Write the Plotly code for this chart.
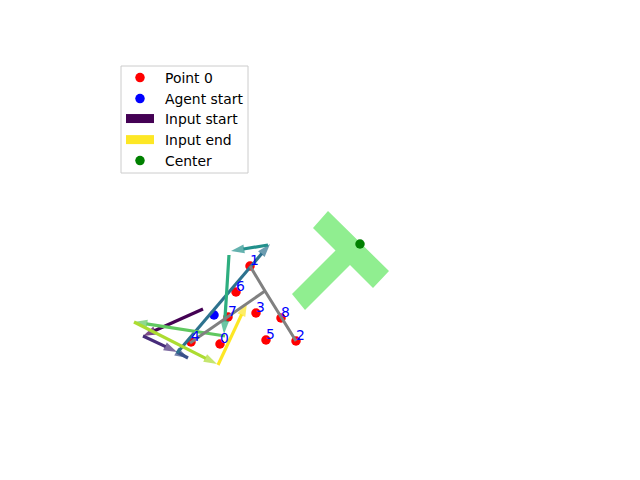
import plotly.graph_objects as go
from plotly.colors import sample_colorscale

W, H = 640, 480
FONT = "DejaVu Sans"

# ---------------- data (pixel-space coordinates, y grows downward) ----------------
point_labels = ["0", "1", "2", "3", "4", "5", "6", "7", "8"]
point_x = [220, 250, 296, 256, 191, 266, 236, 228, 281]
point_y = [344, 266, 341, 313, 342, 340, 292, 317, 318]

agent_x = [214]
agent_y = [315]

center_x = [360]
center_y = [244]

# gray skeleton
skel_main_x = [250, 265, 296]
skel_main_y = [266, 291, 341]
skel_branch_x = [265, 190]
skel_branch_y = [291, 343]

# light green T-shaped region outline
shape_x = [328, 389, 373, 350, 305, 292, 335.5, 313]
shape_y = [211, 271, 288, 265, 310, 294, 250.5, 228]

# input arrows (tail -> tip)
arrow_x0 = [203, 143, 177, 177, 268, 229, 225, 134, 218]
arrow_y0 = [309, 336, 352, 353, 245, 255, 336, 322, 365]
arrow_x1 = [143, 177, 188, 270, 231, 224, 134, 217, 247]
arrow_y1 = [336, 352, 358, 244, 251, 334, 322, 364, 303]

# legend frame (pixel box)
legend_box_x = [121, 248]
legend_box_y = [66, 173]

n_arrows = len(arrow_x0)
arrow_colors = sample_colorscale("Viridis", [i / (n_arrows - 1) for i in range(n_arrows)])

# ---------------- figure ----------------
fig = go.Figure()

fig.add_trace(go.Scatter(
    x=shape_x + shape_x[:1], y=shape_y + shape_y[:1], mode="lines", fill="toself",
    fillcolor="#90ee90", line=dict(width=0, color="#90ee90"),
    showlegend=False, hoverinfo="skip"))

fig.add_trace(go.Scatter(
    x=point_x, y=point_y, mode="markers", name="Point 0",
    marker=dict(color="red", size=9.5, line_width=0), legend="legend"))

fig.add_trace(go.Scatter(
    x=agent_x, y=agent_y, mode="markers", name="Agent start",
    marker=dict(color="blue", size=9.5, line_width=0), legend="legend"))

for i in range(n_arrows):
    c = arrow_colors[i]
    fig.add_trace(go.Scatter(
        x=[arrow_x0[i], arrow_x1[i]], y=[arrow_y0[i], arrow_y1[i]],
        mode="lines+markers",
        line=dict(color=c, width=3.2),
        marker=dict(symbol="arrow", size=[0, 14], angleref="previous",
                    color=c, line_width=0),
        showlegend=False, hoverinfo="skip"))

fig.add_trace(go.Scatter(
    x=skel_main_x, y=skel_main_y, mode="lines",
    line=dict(color="gray", width=3), showlegend=False, hoverinfo="skip"))
fig.add_trace(go.Scatter(
    x=skel_branch_x, y=skel_branch_y, mode="lines",
    line=dict(color="gray", width=3), showlegend=False, hoverinfo="skip"))

fig.add_trace(go.Scatter(
    x=center_x, y=center_y, mode="markers", name="Center",
    marker=dict(color="green", size=9.5, line_width=0), legend="legend3"))

# legend-only patches
fig.add_trace(go.Scatter(
    x=[None], y=[None], mode="lines", name="Input start",
    line=dict(color=arrow_colors[0], width=9, dash="28px,100px"), legend="legend2"))
fig.add_trace(go.Scatter(
    x=[None], y=[None], mode="lines", name="Input end",
    line=dict(color=arrow_colors[-1], width=9, dash="28px,100px"), legend="legend2"))

for lab, px, py in zip(point_labels, point_x, point_y):
    fig.add_annotation(
        x=px, y=py, text=lab, showarrow=False, xanchor="left", yanchor="bottom",
        yshift=-4, xshift=-2, font=dict(color="blue", size=13.9, family=FONT))

fig.add_shape(type="rect", xref="x", yref="y",
              x0=legend_box_x[0], x1=legend_box_x[1],
              y0=legend_box_y[0], y1=legend_box_y[1],
              line=dict(color="#cccccc", width=1), fillcolor="white", layer="above")

legend_font = dict(family=FONT, size=13.9, color="black")
common = dict(xanchor="left", yanchor="top", bgcolor="rgba(0,0,0,0)",
              borderwidth=0, font=legend_font, traceorder="normal")

fig.update_layout(
    width=W, height=H, autosize=False,
    margin=dict(l=0, r=0, t=0, b=0),
    paper_bgcolor="white", plot_bgcolor="white",
    font=dict(family=FONT, size=13.9, color="black"),
    xaxis=dict(range=[0, W], visible=False, fixedrange=True),
    yaxis=dict(range=[H, 0], visible=False, fixedrange=True),
    showlegend=True,
    legend=dict(x=115 / W, y=1 - 62 / H, itemwidth=40, **common),
    legend2=dict(x=121 / W, y=1 - 103 / H, itemwidth=34, **common),
    legend3=dict(x=115 / W, y=1 - 145 / H, itemwidth=40, **common),
)

fig.write_html("out.html")
